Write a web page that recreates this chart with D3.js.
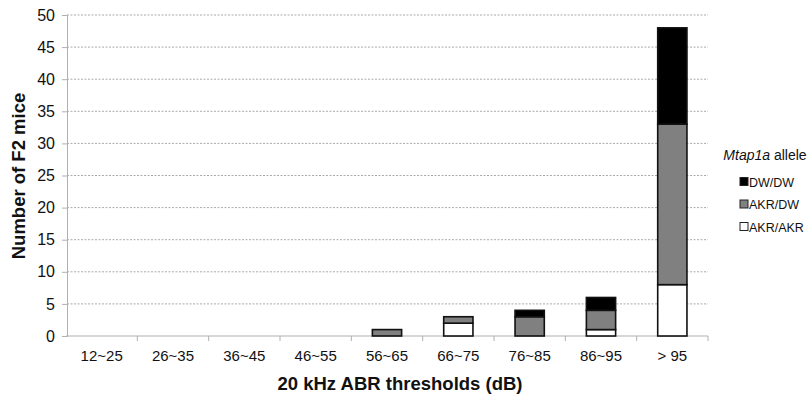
<!DOCTYPE html>
<html>
<head>
<meta charset="utf-8">
<script src="https://cdn.jsdelivr.net/npm/d3@7"></script>
<style>
  body { margin: 0; background: #fff; }
  text { font-family: "Liberation Sans", Arial, sans-serif; }
</style>
</head>
<body>
<svg id="chart" width="808" height="398"></svg>
<script>
// Threshold bins for 20 kHz ABR
const categories = ["12~25", "26~35", "36~45", "46~55", "56~65", "66~75", "76~85", "86~95", "> 95"];
// Counts of F2 mice per Mtap1a genotype
const akrAkr = [0, 0, 0, 0, 0, 2, 0, 1, 8];
const akrDw  = [0, 0, 0, 0, 1, 1, 3, 3, 25];
const dwDw   = [0, 0, 0, 0, 0, 0, 1, 2, 15];
const seriesNames = ["AKR/AKR", "AKR/DW", "DW/DW"];
const seriesColors = ["#ffffff", "#808080", "#000000"];
const yTicks = [0, 5, 10, 15, 20, 25, 30, 35, 40, 45, 50];

const svg = d3.select("#chart");
const x0 = 66, x1 = 708, yTop = 15, yBot = 336;

const x = d3.scaleBand().domain(categories).range([x0, x1]).paddingInner(0.59).paddingOuter(0.295);
const xTickScale = d3.scaleLinear().domain([0, categories.length]).range([x0, x1]);
const y = d3.scaleLinear().domain([0, 50]).range([yBot, yTop]);

const rows = categories.map((c, i) => ({ cat: c, "AKR/AKR": akrAkr[i], "AKR/DW": akrDw[i], "DW/DW": dwDw[i] }));
const stacked = d3.stack().keys(seriesNames)(rows);

// gridlines
svg.append("g").selectAll("line").data(yTicks.filter(d => d > 0)).join("line")
  .attr("x1", x0 + 1).attr("x2", x1)
  .attr("y1", d => y(d)).attr("y2", d => y(d))
  .attr("stroke", "#aaa").attr("stroke-width", 1).attr("stroke-dasharray", "2,1.5");

// y axis
const yAxis = svg.append("g").attr("transform", `translate(${x0 + 1},0)`)
  .call(d3.axisLeft(y).tickValues(yTicks).tickSize(5).tickPadding(7));
yAxis.select(".domain").attr("stroke", "#b0b0b0");
yAxis.selectAll(".tick line").attr("stroke", "#b0b0b0");
yAxis.selectAll("text").attr("font-size", 16).attr("fill", "#111");

// x axis line and boundary ticks
const xAxisG = svg.append("g");
xAxisG.append("line").attr("x1", x0).attr("x2", x1).attr("y1", yBot).attr("y2", yBot)
  .attr("stroke", "#b0b0b0");
xAxisG.selectAll("line.t").data(d3.range(1, categories.length + 1)).join("line")
  .attr("class", "t")
  .attr("x1", d => xTickScale(d)).attr("x2", d => xTickScale(d))
  .attr("y1", yBot).attr("y2", yBot + 5).attr("stroke", "#b0b0b0");
xAxisG.selectAll("text").data(categories).join("text")
  .attr("x", d => x(d) + x.bandwidth() / 2).attr("y", 361)
  .attr("text-anchor", "middle").attr("font-size", 15).attr("fill", "#111")
  .text(d => d);

// stacked bars
stacked.forEach((layer, si) => {
  svg.append("g").selectAll("rect").data(layer.filter(d => d[1] - d[0] > 0)).join("rect")
    .attr("x", d => x(d.data.cat))
    .attr("width", x.bandwidth())
    .attr("y", d => y(d[1]))
    .attr("height", d => y(d[0]) - y(d[1]))
    .attr("fill", seriesColors[si])
    .attr("stroke", "#111").attr("stroke-width", 1.6);
});

// axis titles
svg.append("text").attr("x", 400).attr("y", 390)
  .attr("text-anchor", "middle").attr("font-size", 18.5).attr("font-weight", "bold").attr("fill", "#111")
  .text("20 kHz ABR thresholds (dB)");
svg.append("text").attr("transform", "translate(25,176) rotate(-90)")
  .attr("text-anchor", "middle").attr("font-size", 18.5).attr("font-weight", "bold").attr("fill", "#111")
  .text("Number of F2 mice");

// legend
const legend = svg.append("g");
const lt = legend.append("text").attr("x", 765).attr("y", 160).attr("text-anchor", "middle")
  .attr("font-size", 14).attr("fill", "#111");
lt.append("tspan").attr("font-style", "italic").text("Mtap1a");
lt.append("tspan").text(" allele");
const legendItems = ["DW/DW", "AKR/DW", "AKR/AKR"];
const legendColors = ["#000000", "#808080", "#ffffff"];
legendItems.forEach((name, i) => {
  const cy = 182 + i * 22.5;
  legend.append("rect").attr("x", 740).attr("y", cy - 4.5).attr("width", 8).attr("height", 8)
    .attr("fill", legendColors[i]).attr("stroke", "#222").attr("stroke-width", 1);
  legend.append("text").attr("x", 749).attr("y", cy + 4.5).attr("font-size", 12.5)
    .attr("fill", "#111").text(name);
});
</script>
</body>
</html>
